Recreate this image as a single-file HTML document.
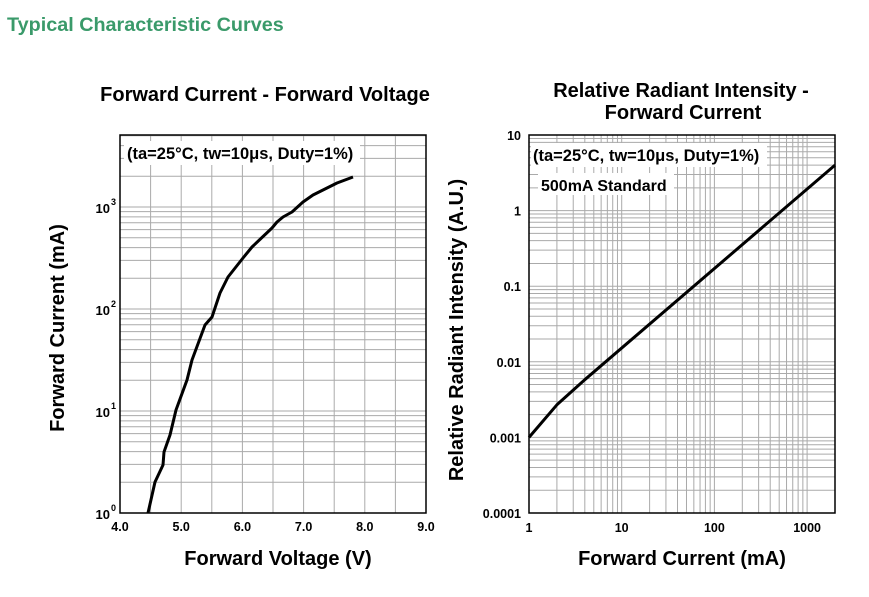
<!DOCTYPE html>
<html><head><meta charset="utf-8"><style>
html,body{margin:0;padding:0;background:#fff;width:869px;height:597px;overflow:hidden}
svg{display:block;font-family:"Liberation Sans",Arial,sans-serif;font-weight:bold}
</style></head><body>
<svg id="s" width="869" height="597" xmlns="http://www.w3.org/2000/svg">
<text x="7" y="31" font-size="19.8" fill="#3a9a6a">Typical Characteristic Curves</text>
<text x="265" y="101" font-size="20" text-anchor="middle">Forward Current - Forward Voltage</text>
<text x="681" y="97" font-size="20" text-anchor="middle">Relative Radiant Intensity -</text>
<text x="683" y="119" font-size="20" text-anchor="middle">Forward Current</text>
<g id="g"></g>
<text x="278" y="565" font-size="20" text-anchor="middle">Forward Voltage (V)</text>
<text x="682" y="565" font-size="20" text-anchor="middle">Forward Current (mA)</text>
<text transform="translate(64,328) rotate(-90)" font-size="20" text-anchor="middle">Forward Current (mA)</text>
<text transform="translate(463,330) rotate(-90)" font-size="20" text-anchor="middle">Relative Radiant Intensity (A.U.)</text>
</svg>
<script>
var g=document.getElementById('g'),h='';
function L(x1,y1,x2,y2,c,w){h+='<line x1="'+x1+'" y1="'+y1+'" x2="'+x2+'" y2="'+y2+'" stroke="'+c+'" stroke-width="'+w+'"/>';}
function T(x,y,t,a,s){h+='<text x="'+x+'" y="'+y+'" font-size="'+(s||12.5)+'" text-anchor="'+(a||'middle')+'">'+t+'</text>';}
var gc='#aaa';
var lx0=120,lx1=426,ly0=135,ly1=513,dec=102;
for(var v=4.5;v<9;v+=0.5){var x=lx0+(v-4)*61.2;L(x,ly0,x,ly1,gc,1);}
for(var d=0;d<4;d++)for(var m=1;m<10;m++){var y=ly1-(d+Math.log10(m))*dec;if(y>ly0&&y<ly1)L(lx0,y,lx1,y,gc,1);}
h+='<rect x="'+lx0+'" y="'+ly0+'" width="'+(lx1-lx0)+'" height="'+(ly1-ly0)+'" fill="none" stroke="#000" stroke-width="1.5"/>';
for(var i=0;i<6;i++)T(lx0+i*61.2,531,(4+i)+'.0');
for(var d=0;d<4;d++){var y=ly1-d*dec;h+='<text x="110" y="'+(y+6)+'" font-size="13" text-anchor="end">10</text><text x="111" y="'+(y-2)+'" font-size="9">'+d+'</text>';}
var pts=[[148,513],[155,482],[163,465],[164,452],[170,435],[176,410],[187,380],[192,360],[205,325],[212,317],[220,293],[228,277],[243,258],[252,247],[272,228],[277,222],[283,217],[292,212],[303,202],[313,195],[327,188],[337,183],[353,177]];
h+='<polyline points="'+pts.join(' ')+'" fill="none" stroke="#000" stroke-width="3" stroke-linejoin="round"/>';
h+='<rect x="124" y="141" width="236" height="24" fill="#fff"/>';
T(127,159,'(ta=25°C, tw=10μs, Duty=1%)','start',16.5);
var rx0=529,rx1=835,ry0=135,ry1=513,xd=92.7,yd=75.6;
for(var d=0;d<4;d++)for(var m=1;m<10;m++){var x=rx0+(d+Math.log10(m))*xd;if(x>rx0&&x<rx1)L(x,ry0,x,ry1,gc,1);}
for(var d=0;d<5;d++)for(var m=1;m<10;m++){var y=ry1-(d+Math.log10(m))*yd;if(y>ry0&&y<ry1)L(rx0,y,rx1,y,gc,1);}
h+='<rect x="'+rx0+'" y="'+ry0+'" width="'+(rx1-rx0)+'" height="'+(ry1-ry0)+'" fill="none" stroke="#000" stroke-width="1.5"/>';
var xl=['1','10','100','1000'];for(var i=0;i<4;i++)T(rx0+i*xd,532,xl[i]);
var yl=['0.0001','0.001','0.01','0.1','1','10'];for(var i=0;i<6;i++)T(521,ry1-i*yd+5,yl[i],'end');
function P(c,v){return [rx0+Math.log10(c)*xd, ry1-(Math.log10(v)+4)*yd];}
var rp=[P(1,0.001),P(2,0.0027),P(4,0.0058),P(2000,4)];
h+='<polyline points="'+rp.join(' ')+'" fill="none" stroke="#000" stroke-width="3" stroke-linejoin="round"/>';
h+='<rect x="531" y="143" width="236" height="24" fill="#fff"/><rect x="538" y="173" width="136" height="22" fill="#fff"/>';
T(533,161,'(ta=25°C, tw=10μs, Duty=1%)','start',16.5);
T(541,191,'500mA Standard','start',16);
g.innerHTML=h;
</script>
</body></html>
